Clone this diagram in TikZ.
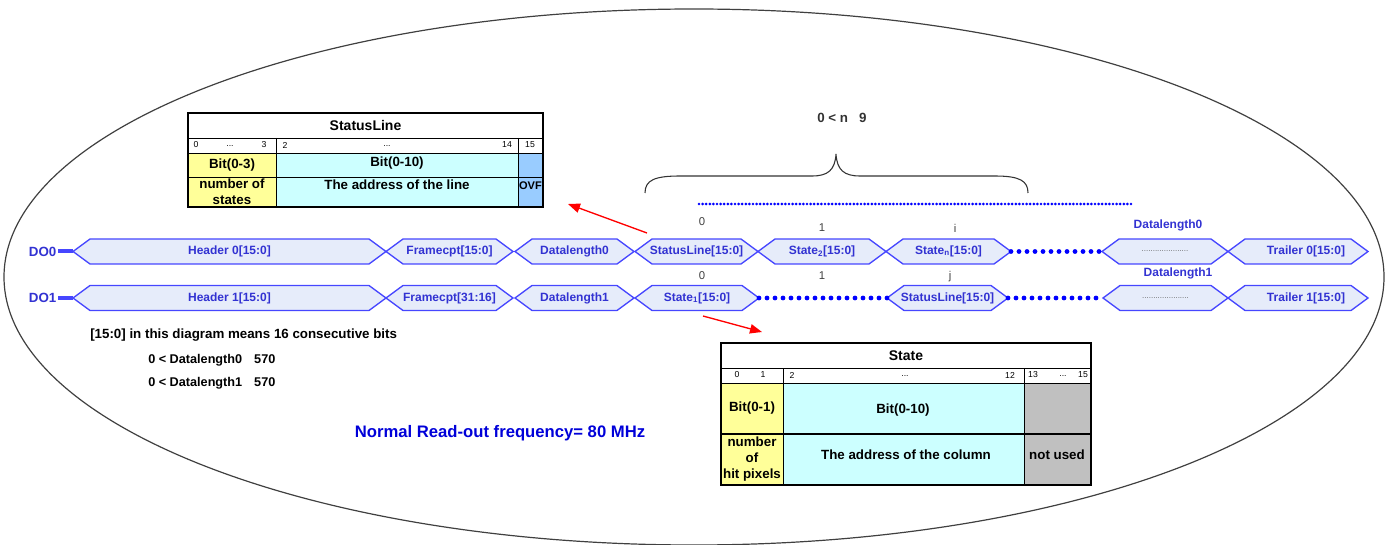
\documentclass[tikz,border=0pt]{standalone}
\usepackage{fontspec}
\setmainfont{Liberation Sans}
\usetikzlibrary{arrows.meta}

\definecolor{sigblue}{RGB}{70,70,255}
\definecolor{sigtext}{RGB}{50,50,210}
\definecolor{sigfill}{RGB}{230,236,250}
\definecolor{bityellow}{RGB}{255,255,153}
\definecolor{bitcyan}{RGB}{204,255,255}
\definecolor{bitblue}{RGB}{153,204,255}
\definecolor{bitgray}{RGB}{192,192,192}

\tikzset{
    segline/.style={draw=sigblue,fill=sigfill,line width=1pt,line join=miter},
    seglabel/.style={text=sigtext,font=\fontsize{9}{10}\selectfont\bfseries,inner sep=0pt},
    dolabel/.style={text=sigtext,font=\fontsize{10}{11}\selectfont\bfseries,inner sep=1pt},
    bigdots/.style={draw=blue,line width=3.6pt,line cap=round,dash pattern=on 0pt off 6pt},
    topdots/.style={draw=blue,line width=2.2pt,line cap=round,dash pattern=on 0pt off 2.7pt},
    idxlabel/.style={font=\fontsize{8.5}{9}\selectfont,text=black!75,inner sep=0pt},
    cellbold/.style={font=\fontsize{10}{12}\selectfont\bfseries,align=center,inner sep=0pt},
    tabtitle/.style={font=\fontsize{10.5}{11}\selectfont\bfseries,inner sep=0pt},
    bitnum/.style={font=\fontsize{6.5}{7}\selectfont,inner sep=0pt},
    notetext/.style={font=\fontsize{10}{11}\selectfont\bfseries,anchor=west,inner sep=0pt},
    redarrow/.style={draw=red,line width=1pt,-{Triangle[length=9pt,width=7pt]}}
}

% one hexagon of the timing bus: name, left tip, right tip, row, text
\newcommand{\hexseg}[5]{%
    \draw[segline] (#2,#4) -- (#2+17,#4-12.5) -- (#3-17,#4-12.5) -- (#3,#4)
        -- (#3-17,#4+12.5) -- (#2+17,#4+12.5) -- cycle;
    \coordinate (#1-w) at (#2,#4);
    \coordinate (#1-e) at (#3,#4);
    \node[seglabel] (#1) at ({(#2+#3)/2},#4) {#5};
}
\newcommand{\fillerdots}{\textcolor{black!60}{\fontsize{6}{6}\selectfont\mdseries.....................}}

\begin{document}
\begin{tikzpicture}[x=0.75pt,y=-0.75pt]
    \useasboundingbox (0,0) rectangle (1388,545);
    \draw[black!75,line width=0.9pt] (694,277) ellipse [x radius=690, y radius=268];

    % StatusLine word
    \fill[bityellow] (188,153) rectangle (276,207);
    \fill[bitcyan] (276,153) rectangle (518,207);
    \fill[bitblue] (518,153) rectangle (543,207);
    \draw[line width=0.8pt] (188,113) rectangle (543,207);
    \draw[line width=0.6pt] (188,138) -- (543,138) (188,153) -- (543,153) (188,177) -- (543,177)
        (276,138) -- (276,207) (518,138) -- (518,207);
    \node[tabtitle] (sltitle) at (365.5,125.5) {StatusLine};
    \node[bitnum] (slb0) at (196,145) {0};
    \node[bitnum] (slb1) at (230,146) {...};
    \node[bitnum] (slb3) at (264,145) {3};
    \node[bitnum] (slb2) at (285,145) {2};
    \node[bitnum] (slb4) at (387,146) {...};
    \node[bitnum] (slb14) at (507,145) {14};
    \node[bitnum] (slb15) at (530,145) {15};
    \node[cellbold] (slbitA) at (232,165) {Bit(0-3)};
    \node[cellbold] (slbitB) at (397,163) {Bit(0-10)};
    \node[cellbold] (slnum) at (232,192) {number of\\states};
    \node[cellbold] (sladdr) at (397,185) {The address of the line};
    \node[cellbold,font=\fontsize{8.3}{10}\selectfont\bfseries] (slovf) at (530.5,186) {OVF};

    % State word
    \fill[bityellow] (721,383) rectangle (783,485);
    \fill[bitcyan] (783,383) rectangle (1024,485);
    \fill[bitgray] (1024,383) rectangle (1091,485);
    \draw[line width=0.8pt] (721,343) rectangle (1091,485);
    \draw[line width=0.6pt] (721,368) -- (1091,368) (721,383) -- (1091,383)
        (783,368) -- (783,485) (1024,368) -- (1024,485);
    \draw[line width=1.2pt] (721,434) -- (1091,434);
    \node[tabtitle] (sttitle) at (906,355.5) {State};
    \node[bitnum] (stb0) at (737,375) {0};
    \node[bitnum] (stb1) at (763,375) {1};
    \node[bitnum] (stb2) at (792,375) {2};
    \node[bitnum] (stb3) at (905,376) {...};
    \node[bitnum] (stb12) at (1010,375) {12};
    \node[bitnum] (stb13) at (1033,375) {13};
    \node[bitnum] (stb14) at (1063,376) {...};
    \node[bitnum] (stb15) at (1083,375) {15};
    \node[cellbold] (stbitA) at (752,408) {Bit(0-1)};
    \node[cellbold] (stbitB) at (903,410) {Bit(0-10)};
    \node[cellbold] (sthit) at (752,459) {number\\of\\hit pixels};
    \node[cellbold] (staddr) at (906,455) {The address of the column};
    \node[cellbold] (stunused) at (1057,455) {not used};

    % brace over the states
    \draw[black!80,line width=0.8pt] (645,193) .. controls (645,180) and (655,176) .. (680,176) -- (812,176)
        .. controls (828,176) and (835,170) .. (836,154) .. controls (837,170) and (844,176) .. (860,176)
        -- (995,176) .. controls (1020,176) and (1028,181) .. (1028,193);
    \node[font=\fontsize{10}{11}\selectfont\bfseries,text=black!80] (nrange) at (842,118) {0 < n \ \ 9};
    \coordinate (tdL) at (699,204);
    \coordinate (tdR) at (1131,204);
    \draw[topdots] (tdL) -- (tdR);

    % DO0
    \node[dolabel,anchor=east] (do0) at (58,251.5) {DO0};
    \hexseg{hd0}{73}{386}{251.5}{Header 0[15:0]}
    \hexseg{fc0}{386}{513}{251.5}{Framecpt[15:0]}
    \hexseg{dl0}{515}{634}{251.5}{Datalength0}
    \hexseg{sl0}{635}{758}{251.5}{StatusLine[15:0]}
    \hexseg{sa0}{758}{886}{251.5}{State\textsubscript{2}[15:0]}
    \hexseg{sn0}{886}{1011}{251.5}{State\textsubscript{n}[15:0]}
    \hexseg{ex0}{1102}{1228}{251.5}{\fillerdots}
    \hexseg{tr0}{1228}{1368}{251.5}{\hspace{12pt}Trailer 0[15:0]}
    \draw[sigblue,line width=3pt] (do0.east) -- (hd0-w);
    \draw[bigdots] (sn0-e) -- (ex0-w);

    % DO1
    \node[dolabel,anchor=east] (do1) at (58,298) {DO1};
    \hexseg{hd1}{73}{386}{298}{Header 1[15:0]}
    \hexseg{fc1}{386}{513}{298}{Framecpt[31:16]}
    \hexseg{dl1}{515}{634}{298}{Datalength1}
    \hexseg{sa1}{635}{759}{298}{State\textsubscript{1}[15:0]}
    \hexseg{sl1}{887}{1008}{298}{StatusLine[15:0]}
    \hexseg{ex1}{1103}{1228}{298}{\fillerdots}
    \hexseg{tr1}{1228}{1368}{298}{\hspace{12pt}Trailer 1[15:0]}
    \draw[sigblue,line width=3pt] (do1.east) -- (hd1-w);
    \draw[bigdots] (sa1-e) -- (sl1-w);
    \draw[bigdots] (sl1-e) -- (ex1-w);

    % word indices
    \node[idxlabel] (ia0) at (702,222) {0};
    \node[idxlabel] (ia1) at (822,228) {1};
    \node[idxlabel] (iai) at (955,228) {i};
    \node[seglabel] (lenA) at (1168,225) {Datalength0};
    \node[idxlabel] (ib0) at (702,276) {0};
    \node[idxlabel] (ib1) at (822,276) {1};
    \node[idxlabel] (ibj) at (950,277) {j};
    \node[seglabel] (lenB) at (1178,273) {Datalength1};

    % pointers to the word layouts
    \coordinate (pa) at (647,233);
    \coordinate (pb) at (703,316);
    \coordinate (qa) at (568,204);
    \coordinate (qb) at (762,332);
    \draw[redarrow] (pa) -- (qa);
    \draw[redarrow] (pb) -- (qb);

    % notes
    \node[notetext] (note) at (90,335) {[15:0] in this diagram means 16 consecutive bits};
    \node[notetext,font=\fontsize{9.5}{11}\selectfont\bfseries] (lim0) at (148,360) {0 < Datalength0\hspace{9pt}570};
    \node[notetext,font=\fontsize{9.5}{11}\selectfont\bfseries] (lim1) at (148,383) {0 < Datalength1\hspace{9pt}570};
    \node[font=\fontsize{12.5}{14}\selectfont\bfseries,text=blue!85!black,inner sep=0pt] (freq) at (500,433) {Normal Read-out frequency= 80 MHz};
\end{tikzpicture}
\end{document}
